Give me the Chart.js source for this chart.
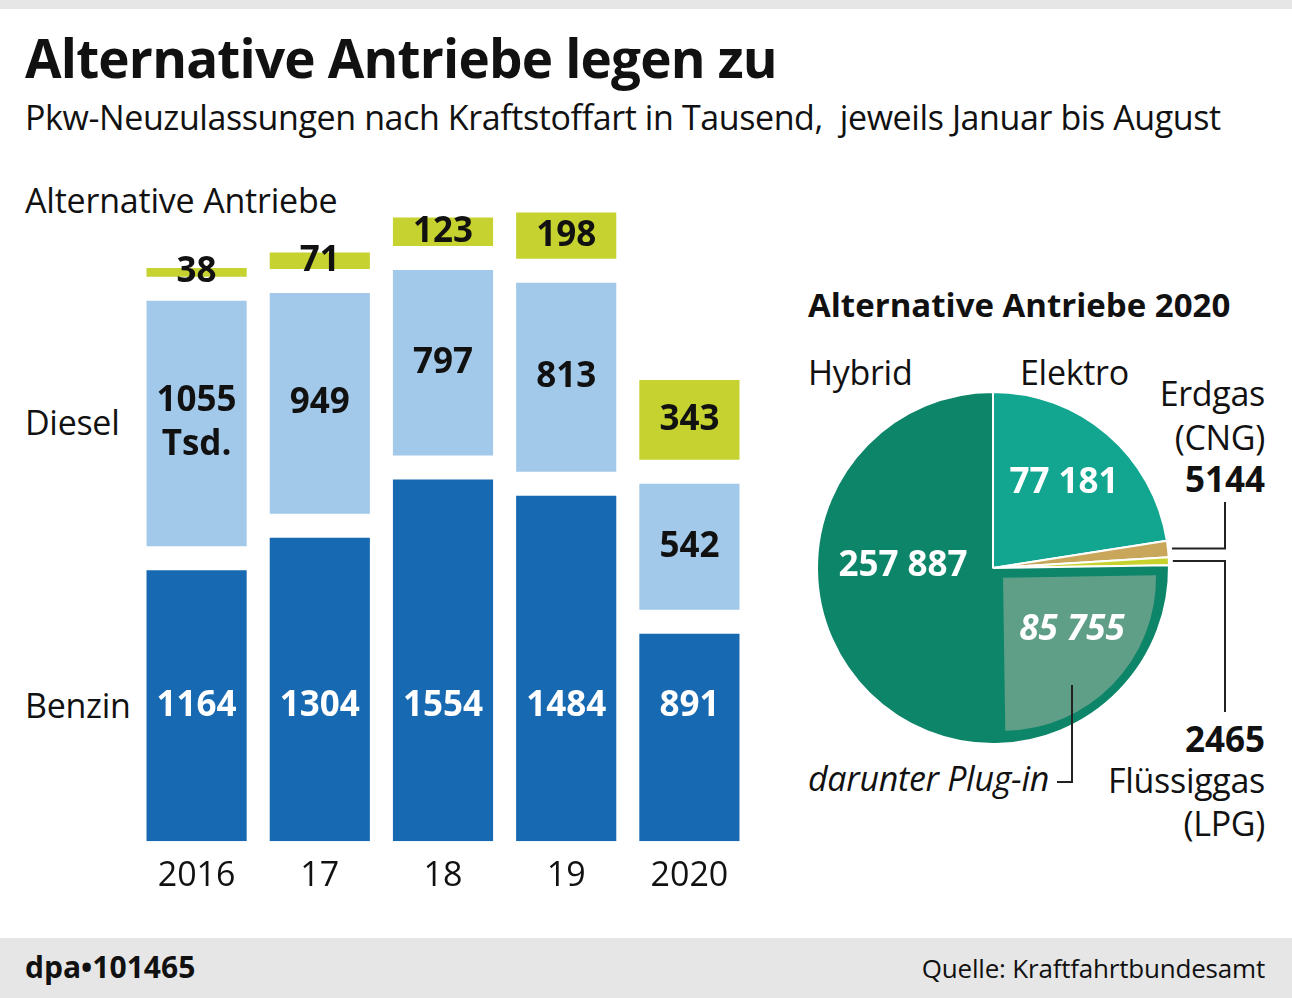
<!DOCTYPE html>
<html lang="de">
<head>
<meta charset="UTF-8" />
<title>Alternative Antriebe legen zu</title>
<script src="https://cdn.jsdelivr.net/npm/chart.js"></script>
<style>
  body {
    margin: 0;
    width: 1292px;
    height: 998px;
    position: relative;
    overflow: hidden;
    background: #fff;
    font-family: 'Open Sans', sans-serif;
    color: #111;
  }
  .t { position: absolute; white-space: nowrap; line-height: 40px; font-size: 34px; letter-spacing: -0.3px; }
  .r { text-align: right; }
  .b { font-weight: 700; }
  #topbar { position: absolute; left: 0; top: 0; width: 1292px; height: 9px; background: #e6e6e6; }
  #footer { position: absolute; left: 0; top: 938px; width: 1292px; height: 60px; background: #e6e6e6; }
  #barBox { position: absolute; left: 135px; top: 143px; width: 616px; height: 769px; }
  .pieBox { position: absolute; left: 790px; top: 380px; width: 490px; height: 420px; }
</style>
</head>
<body>
  <div id="topbar"></div>
  <div class="t b" style="left:25px; top:28px; font-size:53px; line-height:60px; letter-spacing:-0.8px;">Alternative Antriebe legen zu</div>
  <div class="t" style="left:25px; top:97px; letter-spacing:-0.4px;">Pkw-Neuzulassungen nach Kraftstoffart in Tausend,&nbsp; jeweils Januar bis August</div>

  <div class="t" style="left:25px; top:180px; letter-spacing:-0.2px;">Alternative Antriebe</div>
  <div class="t" style="left:25px; top:402px;">Diesel</div>
  <div class="t" style="left:25px; top:685px;">Benzin</div>

  <div id="barBox"><canvas id="barChart"></canvas></div>

  <div class="t b" style="left:808px; top:285px; font-size:33px; letter-spacing:0;">Alternative Antriebe 2020</div>
  <div class="t" style="left:808px; top:352px;">Hybrid</div>
  <div class="t" style="left:1020px; top:352px;">Elektro</div>
  <div class="t r" style="right:27px; top:373px;">Erdgas</div>
  <div class="t r" style="right:27px; top:417px;">(CNG)</div>
  <div class="t r b" style="right:27px; top:459px; font-size:35px; letter-spacing:0;">5144</div>
  <div class="t r b" style="right:27px; top:719px; font-size:35px; letter-spacing:0;">2465</div>
  <div class="t r" style="right:27px; top:760px;">Flüssiggas</div>
  <div class="t r" style="right:27px; top:803px;">(LPG)</div>
  <div class="t" style="left:808px; top:758px; font-style:italic;">darunter Plug-in</div>

  <div class="pieBox"><canvas id="pieChart"></canvas></div>
  <div class="pieBox"><canvas id="plugChart"></canvas></div>

  <div id="footer"></div>
  <div class="t b" style="left:25px; top:947px; font-size:30px; letter-spacing:0;">dpa•101465</div>
  <div class="t r" style="right:27px; top:948px; font-size:26px; letter-spacing:-0.2px;">Quelle: Kraftfahrtbundesamt</div>

<script>
  // Pkw-Neuzulassungen in Tausend, jeweils Januar bis August
  const years = ["2016", "17", "18", "19", "2020"];
  const benzin = [1164, 1304, 1554, 1484, 891];
  const diesel = [1055, 949, 797, 813, 542];
  const alternativ = [38, 71, 123, 198, 343];

  // Alternative Antriebe 2020
  const pieLabels = ["Elektro", "Erdgas (CNG)", "Flüssiggas (LPG)", "Hybrid"];
  const pieValues = [77181, 5144, 2465, 257887];
  const plugIn = 85755;

  const FONT = "'Open Sans', sans-serif";
  const GAP = 103;          // white gap between the stacked blocks (in Tsd.)
  const BENZIN_LABEL = 580; // height where the Benzin numbers sit

  const BLUE = "#1769b1", LIGHT = "#a2c8ea", LIME = "#c6d22f";

  // floating bars so the blocks can have white gaps between them
  const benzinBars = benzin.map(v => [0, v]);
  const dieselBars = diesel.map((v, i) => [benzin[i] + GAP, benzin[i] + GAP + v]);
  const altBars = alternativ.map((v, i) => {
    const start = benzin[i] + GAP + diesel[i] + GAP;
    return [start, start + v];
  });

  const barLabels = {
    id: "barLabels",
    afterDatasetsDraw(chart) {
      const ctx = chart.ctx;
      const y = chart.scales.y;
      ctx.save();
      ctx.textAlign = "center";
      ctx.textBaseline = "middle";
      ctx.font = "bold 35px " + FONT;
      const raw = [benzin, diesel, alternativ];
      chart.data.datasets.forEach((ds, di) => {
        chart.getDatasetMeta(di).data.forEach((bar, i) => {
          const txt = String(raw[di][i]);
          if (di === 0) {
            ctx.fillStyle = "#fff";
            ctx.fillText(txt, bar.x, y.getPixelForValue(BENZIN_LABEL));
          } else {
            ctx.fillStyle = "#111";
            const cy = (bar.y + bar.base) / 2;
            if (di === 1 && i === 0) {
              ctx.fillText(txt, bar.x, cy - 23);
              ctx.fillText("Tsd.", bar.x, cy + 21);
            } else {
              ctx.fillText(txt, bar.x, cy);
            }
          }
        });
      });
      ctx.restore();
    }
  };

  new Chart(document.getElementById("barChart"), {
    type: "bar",
    data: {
      labels: years,
      datasets: [
        { label: "Benzin", data: benzinBars, backgroundColor: BLUE },
        { label: "Diesel", data: dieselBars, backgroundColor: LIGHT },
        { label: "Alternative Antriebe", data: altBars, backgroundColor: LIME }
      ]
    },
    options: {
      responsive: true,
      maintainAspectRatio: false,
      animation: false,
      events: [],
      layout: { padding: 0 },
      datasets: {
        bar: { grouped: false, barPercentage: 0.813, categoryPercentage: 1, borderWidth: 0 }
      },
      plugins: { legend: { display: false }, tooltip: { enabled: false } },
      scales: {
        x: {
          grid: { display: false, drawTicks: false },
          border: { display: false },
          ticks: { color: "#111", padding: 15, font: { family: FONT, size: 34 } }
        },
        y: { display: false, min: 0, max: 3000 }
      }
    },
    plugins: [barLabels]
  });

  const HYBRID = "#0d8569", ELEKTRO = "#12a690", CNG = "#c8a65a", LPG = "#c8d22d", PLUG = "#5f9f87";
  const piePad = { left: 28, right: 112, top: 13, bottom: 57 };

  const mainPie = new Chart(document.getElementById("pieChart"), {
    type: "pie",
    data: {
      labels: pieLabels,
      datasets: [{
        data: pieValues,
        backgroundColor: [ELEKTRO, CNG, LPG, HYBRID],
        borderColor: "#fff",
        borderWidth: 2
      }]
    },
    options: {
      responsive: true,
      maintainAspectRatio: false,
      animation: false,
      events: [],
      radius: 176,
      layout: { padding: piePad },
      plugins: { legend: { display: false }, tooltip: { enabled: false } }
    }
  });

  // labels and leader lines, drawn on top of the plug-in wedge
  const pieExtras = {
    id: "pieExtras",
    afterDraw(chart) {
      const ctx = chart.ctx;
      const arcs = mainPie.getDatasetMeta(0).data;
      const cx = arcs[0].x, cy = arcs[0].y;
      const R = arcs[0].outerRadius;
      ctx.save();
      ctx.fillStyle = "#fff";
      ctx.textAlign = "center";
      ctx.textBaseline = "middle";
      ctx.font = "bold 35px " + FONT;
      ctx.fillText("77 181", cx + 71, cy - 85);
      ctx.fillText("257 887", cx - 90, cy - 2);
      ctx.font = "italic bold 35px " + FONT;
      ctx.fillText("85 755", cx + 79, cy + 62);

      ctx.strokeStyle = "#222";
      ctx.lineWidth = 2;
      const elbowX = cx + 232;
      const lead = (arc, endY) => {
        const a = (arc.startAngle + arc.endAngle) / 2;
        const sx = cx + Math.cos(a) * (R + 4);
        const sy = cy + Math.sin(a) * (R + 4);
        ctx.beginPath();
        ctx.moveTo(sx, sy);
        ctx.lineTo(elbowX, sy);
        ctx.lineTo(elbowX, endY);
        ctx.stroke();
      };
      lead(arcs[1], cy - 66);
      lead(arcs[2], cy + 144);
      ctx.beginPath();
      ctx.moveTo(cx + 79, cy + 117);
      ctx.lineTo(cx + 79, cy + 214);
      ctx.lineTo(cx + 64, cy + 214);
      ctx.stroke();
      ctx.restore();
    }
  };

  // the plug-in share of Hybrid as an inset wedge
  const rest = pieValues[0] + pieValues[1] + pieValues[2];
  new Chart(document.getElementById("plugChart"), {
    type: "pie",
    data: {
      labels: ["", "Plug-in", ""],
      datasets: [{
        data: [rest, plugIn, pieValues[3] - plugIn],
        backgroundColor: ["rgba(0,0,0,0)", PLUG, "rgba(0,0,0,0)"],
        borderWidth: 0,
        offset: [0, 56, 0]
      }]
    },
    options: {
      responsive: true,
      maintainAspectRatio: false,
      animation: false,
      events: [],
      radius: 153,
      layout: { padding: piePad },
      plugins: { legend: { display: false }, tooltip: { enabled: false } }
    },
    plugins: [pieExtras]
  });
</script>
</body>
</html>
